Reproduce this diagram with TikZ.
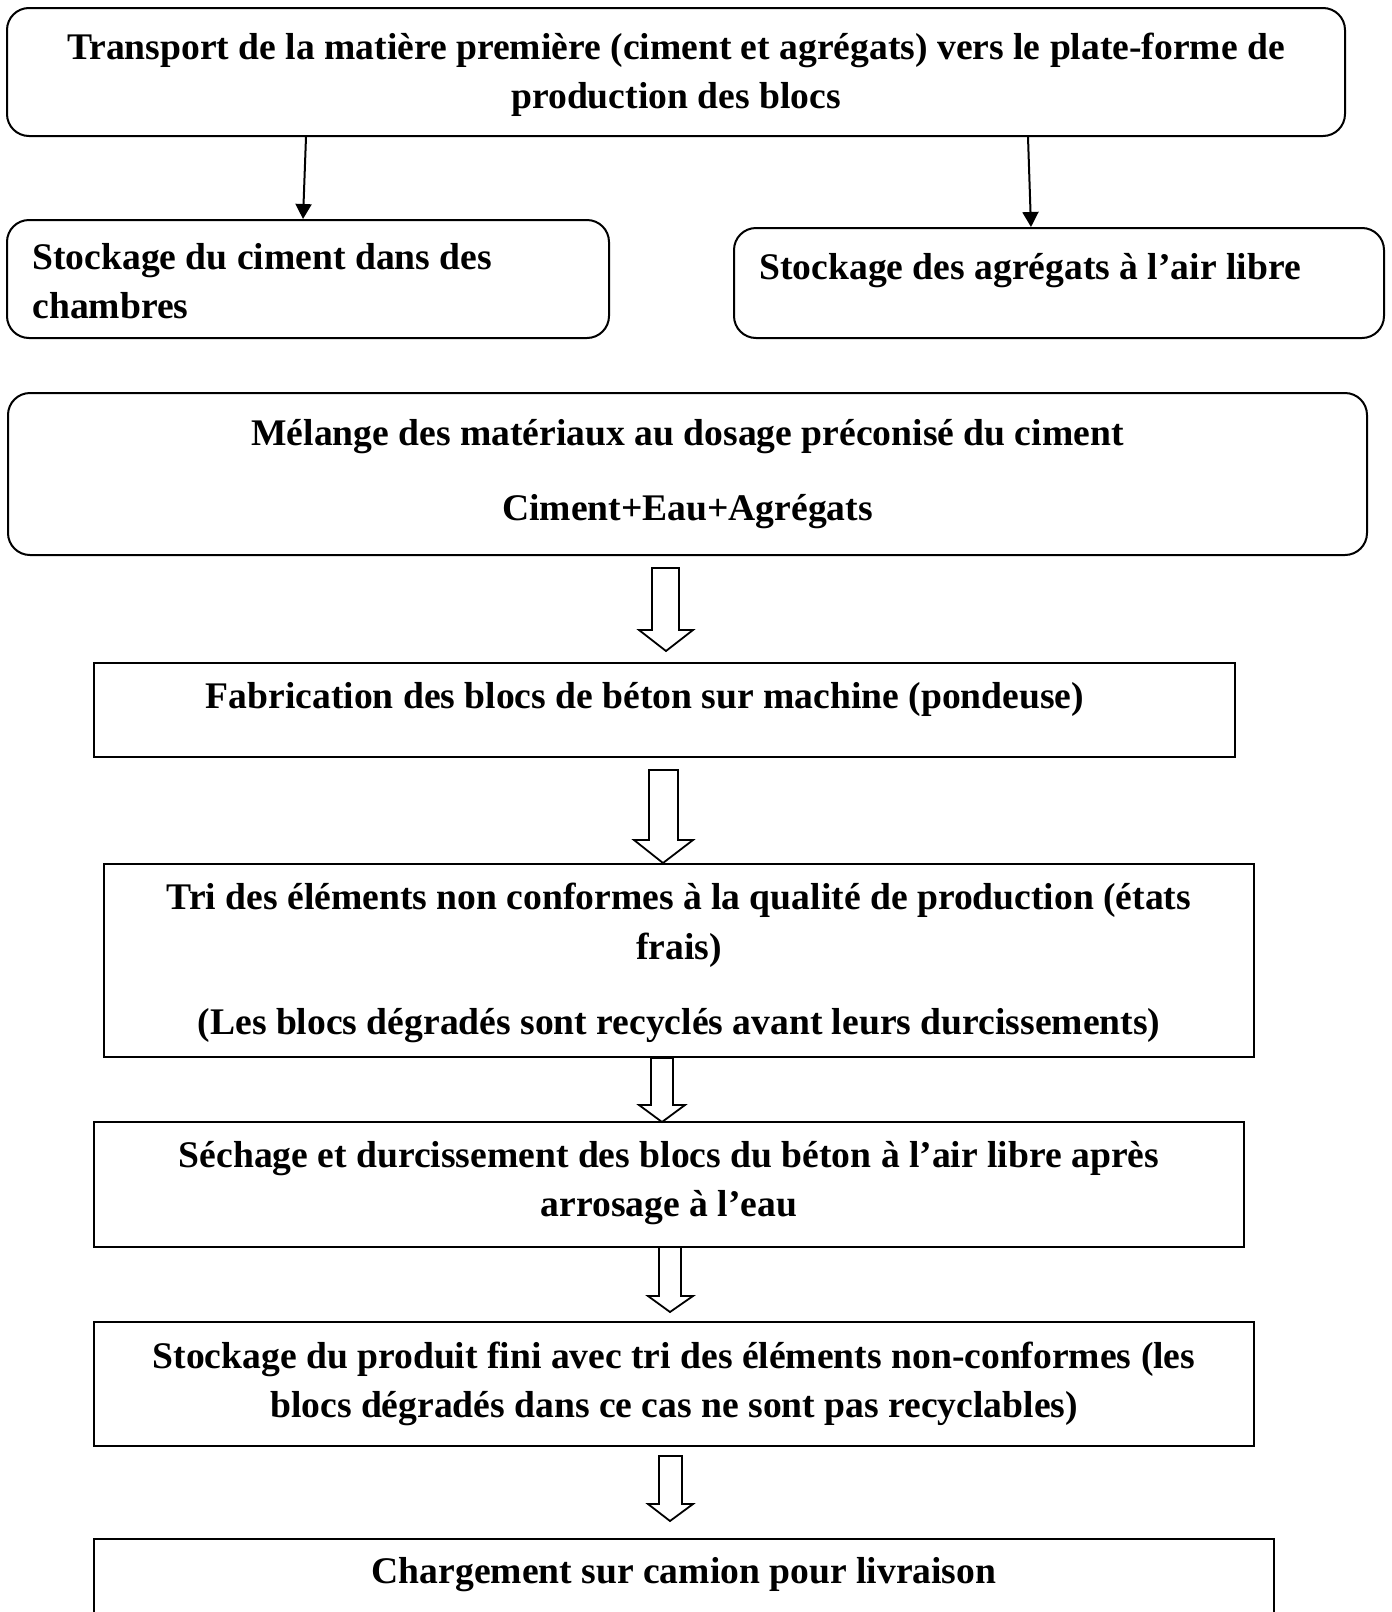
\documentclass[tikz,border=0pt]{standalone}
\usepackage{fontspec}
\setmainfont{Liberation Serif}
\usetikzlibrary{arrows.meta}
\tikzset{
  txt/.style={font=\fontsize{18.8}{24.6}\selectfont\bfseries},
  rbox/.style={draw, rounded corners=11pt, line width=1pt, inner sep=0pt, align=center, txt},
  sbox/.style={draw, line width=1.3pt, inner sep=0pt, align=center, txt},
  lbl/.style={inner sep=0pt, txt},
  thin/.style={line width=1pt, -{Triangle[width=8pt,length=7.5pt]}},
  blk/.style={draw, fill=white, line width=0.9pt, line join=miter},
}
\newcommand{\blockarrow}[8]{% xl xr ytop yhead hl hr tipx tipy
  \draw[blk] (#1,#3) -- (#1,#4) -- (#5,#4) -- (#7,#8) -- (#6,#4) -- (#2,#4) -- (#2,#3) -- cycle;}
\begin{document}
\begin{tikzpicture}[x=0.5pt,y=-0.5pt]
\useasboundingbox (0,0) rectangle (1392,1612);
\clip (0,0) rectangle (1392,1612);
\fill[white] (0,0) rectangle (1392,1612);

\node[rbox, minimum width=669pt, minimum height=64pt] (top) at (676,72) {};
\node[lbl, align=center] (topt) at (676,75)
  {Transport de la matière première (ciment et agrégats) vers le plate-forme de\\production des blocs};

\node[rbox, minimum width=301pt, minimum height=59pt] (cim) at (308,279) {};
\node[lbl, align=left, anchor=west] (cimt) at (32,281)
  {Stockage du ciment dans des\\chambres};

\node[rbox, minimum width=325pt, minimum height=55pt] (agr) at (1059,283) {};
\node[lbl, anchor=west] (agrt) at (759,271) {Stockage des agrégats à l’air libre};

\coordinate (c1) at (306,0);
\coordinate (c2) at (303,0);
\coordinate (c3) at (1028,0);
\coordinate (c4) at (1031,0);
\draw[thin] (top.south -| c1) -- (cim.north -| c2);
\draw[thin] (top.south -| c3) -- (agr.north -| c4);

\node[rbox, minimum width=679.5pt, minimum height=81pt] (mel) at (687.5,474) {};
\node[lbl, align=center] (melt) at (687.5,474)
  {Mélange des matériaux au dosage préconisé du ciment\\[13pt]Ciment+Eau+Agrégats};

\node[sbox, minimum width=570.5pt, minimum height=47pt] (fab) at (664.5,710) {};
\node[lbl] (fabt) at (645,699) {Fabrication des blocs de béton sur machine (pondeuse)};

\node[sbox, minimum width=575pt, minimum height=96.5pt] (tri) at (679,960.5) {};
\node[lbl, align=center] (trit) at (679,963)
  {Tri des éléments non conformes à la qualité de production (états\\frais)\\[13pt](Les blocs dégradés sont recyclés avant leurs durcissements)};

\node[sbox, minimum width=575pt, minimum height=62.5pt] (sec) at (669,1184.5) {};
\node[lbl, align=center] (sect) at (669,1183)
  {Séchage et durcissement des blocs du béton à l’air libre après\\arrosage à l’eau};

\node[sbox, minimum width=580pt, minimum height=62pt] (sto) at (674,1384) {};
\node[lbl, align=center] (stot) at (674,1384)
  {Stockage du produit fini avec tri des éléments non-conformes (les\\blocs dégradés dans ce cas ne sont pas recyclables)};

\node[sbox, minimum width=590pt, minimum height=60.5pt] (cha) at (684,1599.5) {};
\node[lbl] (chat) at (684,1575) {Chargement sur camion pour livraison};

\blockarrow{652}{679}{568}{630}{639}{693}{666}{651}
\blockarrow{649}{678}{770}{840}{634}{693}{663}{863}
\blockarrow{651}{673}{1058}{1105}{639}{685}{662}{1122}
\blockarrow{659}{681}{1247}{1296}{648}{693}{670}{1312}
\blockarrow{659}{682}{1456}{1504}{648}{693}{670}{1521}
\end{tikzpicture}
\end{document}
